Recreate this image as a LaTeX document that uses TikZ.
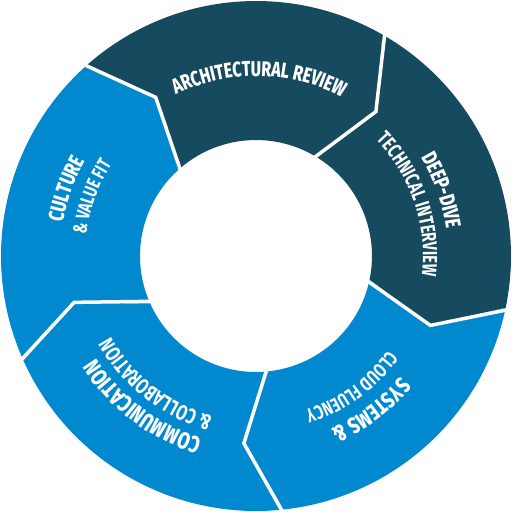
\documentclass[tikz,border=0pt]{standalone}
\usepackage{fontspec}
\newfontfamily\lblbold[FakeStretch=0.74]{Fira Sans ExtraBold}
\newfontfamily\lblmed[FakeStretch=0.725]{Fira Sans Bold}
\usetikzlibrary{decorations.text}
\definecolor{darkseg}{HTML}{164A5E}
\definecolor{blueseg}{HTML}{0089CF}
\tikzset{
  arclbl/.style={decorate, decoration={text along path, text align=center, text color=white}},
  gapline/.style={white, line width=3.5, line join=miter, line cap=butt}
}
\begin{document}
\begin{tikzpicture}[x=1pt,y=1pt]
\useasboundingbox (-256,-256) rectangle (256,256);
\def\Ro{255}\def\Ri{116}\def\Rk{187.7}\def\dk{10}
% segments
\foreach \a/\c in {132.3/darkseg, 60.3/darkseg, -11.7/blueseg, -83.7/blueseg, -155.7/blueseg} {
  \pgfmathsetmacro\b{\a-72}
  \fill[\c] (\a:\Ro) arc[start angle=\a, end angle=\b, radius=\Ro] -- ({\b-\dk}:\Rk) -- (\b:\Ri)
     arc[start angle=\b, end angle=\a, radius=\Ri] -- ({\a-\dk}:\Rk) -- cycle;
}
% white gaps
\foreach \a in {132.3, 60.3, -11.7, -83.7, -155.7} {
  \draw[gapline] (\a:\Ro+6) -- ({\a-\dk}:\Rk) -- (\a:\Ri-6);
}
% labels
\path[arclbl, decoration={text={|\lblbold\fontsize{21.3}{18}\selectfont|ARCHITECTURAL REVIEW}}]
  (129:180) arc[start angle=129, end angle=49, radius=180];
\path[arclbl, decoration={text={|\lblbold\fontsize{21.7}{18}\selectfont|DEEP-DIVE}}]
  (59.5:192) arc[start angle=59.5, end angle=-20.5, radius=192];
\path[arclbl, decoration={text={|\lblmed\fontsize{20.4}{18}\selectfont|TECHNICAL INTERVIEW}}]
  (58.7:167) arc[start angle=58.7, end angle=-21.3, radius=167];
\path[arclbl, decoration={text={|\lblbold\fontsize{22.8}{18}\selectfont|SYSTEMS {\&}}}]
  (-13.3:188) arc[start angle=-13.3, end angle=-93.3, radius=188];
\path[arclbl, decoration={text={|\lblmed\fontsize{19.7}{18}\selectfont|CLOUD FLUENCY}}]
  (-14:162) arc[start angle=-14, end angle=-94, radius=162];
\path[arclbl, decoration={text={|\lblbold\fontsize{23.5}{18}\selectfont|COMMUNICATION}}]
  (-87:190) arc[start angle=-87, end angle=-167, radius=190];
\path[arclbl, decoration={text={|\lblmed\fontsize{21.4}{18}\selectfont|{\&} COLLABORATION}}]
  (-88:166) arc[start angle=-88, end angle=-168, radius=166];
\path[arclbl, decoration={text={|\lblbold\fontsize{21.7}{18}\selectfont|CULTURE}}]
  (200.5:196) arc[start angle=200.5, end angle=120.5, radius=196];
\path[arclbl, decoration={text={|\lblmed\fontsize{19.3}{18}\selectfont|{\&} VALUE FIT}}]
  (200.2:171) arc[start angle=200.2, end angle=120.2, radius=171];
\end{tikzpicture}
\end{document}
